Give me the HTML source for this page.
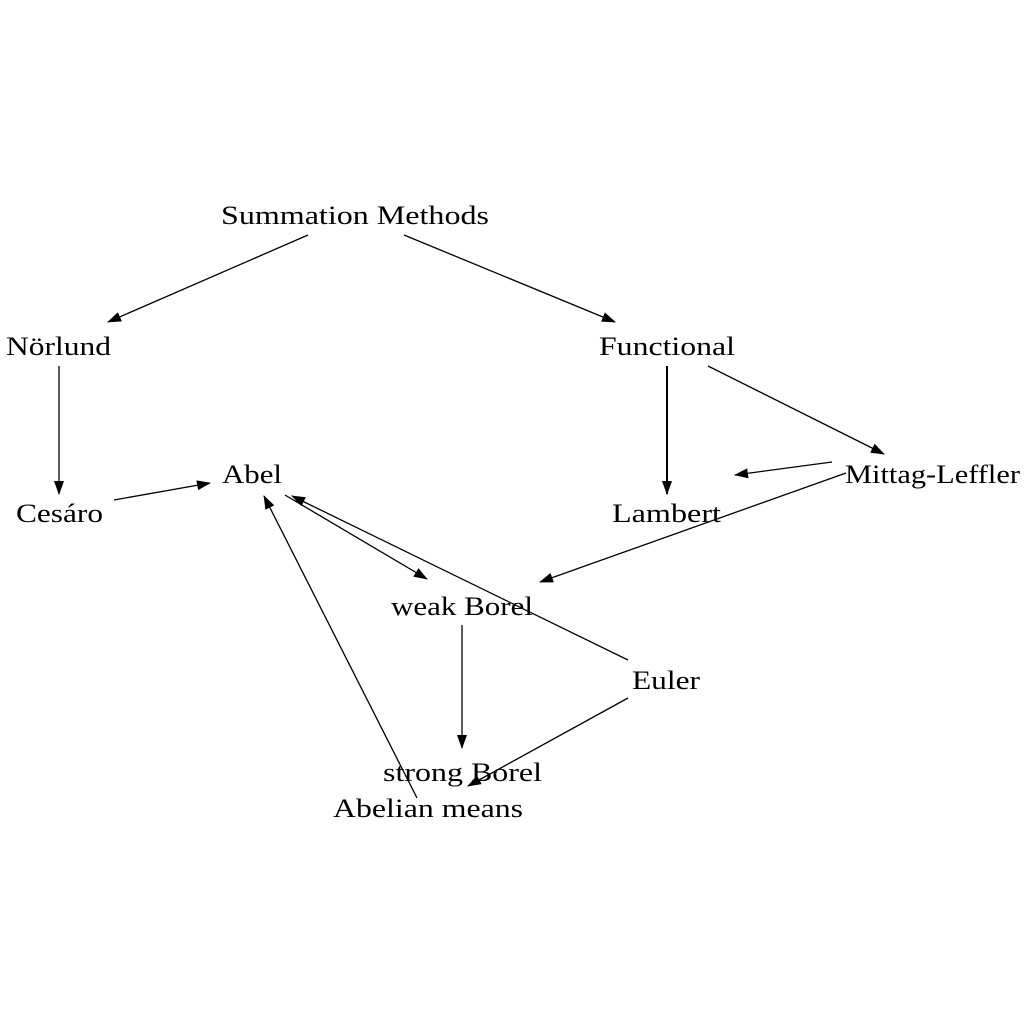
<!DOCTYPE html>
<html><head><meta charset="utf-8"><style>
html,body{margin:0;padding:0;background:#fff;}
svg{display:block;}
text{font-family:"Liberation Serif","DejaVu Serif",serif;font-size:26px;fill:#000;}
</style></head><body>
<svg width="1024" height="1024" viewBox="0 0 1024 1024" xmlns="http://www.w3.org/2000/svg">
<defs>
<marker id="a" markerWidth="14" markerHeight="10" refX="13" refY="5" orient="auto" markerUnits="userSpaceOnUse">
<path d="M0,0 L14,5 L0,10 Z" fill="#000"/>
</marker>
</defs>
<g stroke="#000" stroke-width="1.3" fill="none" marker-end="url(#a)">
<line x1="308" y1="235" x2="108" y2="322"/>
<line x1="404" y1="235" x2="615" y2="322"/>
<line x1="59" y1="366" x2="59" y2="494"/>
<line x1="667" y1="366" x2="667" y2="494" stroke-width="2"/>
<line x1="708" y1="366" x2="884" y2="454"/>
<line x1="114" y1="500" x2="210" y2="483"/>
<line x1="285" y1="495" x2="427" y2="579"/>
<line x1="832" y1="462" x2="735" y2="475"/>
<line x1="846" y1="473" x2="540" y2="582"/>
<line x1="462" y1="625" x2="462" y2="748"/>
<line x1="628" y1="660" x2="292" y2="496"/>
<line x1="628" y1="698" x2="468" y2="786"/>
<line x1="417" y1="798" x2="264" y2="496"/>
</g>
<g lengthAdjust="spacingAndGlyphs">
<text x="221" y="224" textLength="268" lengthAdjust="spacingAndGlyphs">Summation Methods</text>
<text x="6" y="355" textLength="105" lengthAdjust="spacingAndGlyphs">Nörlund</text>
<text x="599" y="355" textLength="136" lengthAdjust="spacingAndGlyphs">Functional</text>
<text x="222" y="483" textLength="60" lengthAdjust="spacingAndGlyphs">Abel</text>
<text x="16" y="522" textLength="87" lengthAdjust="spacingAndGlyphs">Cesáro</text>
<text x="612" y="522" textLength="109" lengthAdjust="spacingAndGlyphs">Lambert</text>
<text x="845" y="483" textLength="175" lengthAdjust="spacingAndGlyphs">Mittag-Leffler</text>
<text x="391" y="615" textLength="142" lengthAdjust="spacingAndGlyphs">weak Borel</text>
<text x="632" y="689" textLength="68" lengthAdjust="spacingAndGlyphs">Euler</text>
<text x="383" y="781" textLength="159" lengthAdjust="spacingAndGlyphs">strong Borel</text>
<text x="333" y="817" textLength="190" lengthAdjust="spacingAndGlyphs">Abelian means</text>
</g>
</svg>
</body></html>
